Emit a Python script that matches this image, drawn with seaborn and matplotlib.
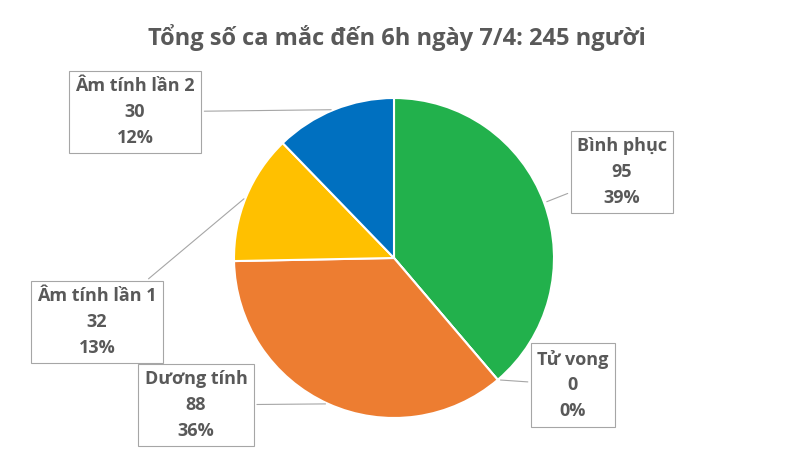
import numpy as np
import matplotlib
matplotlib.use("Agg")
import matplotlib.pyplot as plt
import seaborn as sns

sns.set_theme(style="white")
plt.rcParams['font.family'] = ['Open Sans', 'DejaVu Sans']

labels = ["Bình phục", "Tử vong", "Dương tính", "Âm tính lần 1", "Âm tính lần 2"]
values = [95, 0, 88, 32, 30]
colors = ["#22b14c", "#c00000", "#ed7d31", "#ffc000", "#0070c0"]
# label box centres in figure pixels (from top-left)
label_pos = [(622, 172), (573, 385), (196, 405), (97, 322), (135, 112)]

W, H = 793, 462
fig = plt.figure(figsize=(W/100, H/100), dpi=100)
cx, cy, r = 394, 258, 160
ax = fig.add_axes([(cx-r)/W, (H-cy-r)/H, 2*r/W, 2*r/H])
ax.pie(values, colors=colors, startangle=90, counterclock=False,
       wedgeprops=dict(edgecolor="white", linewidth=1.5), radius=1)
ax.set_xlim(-1, 1); ax.set_ylim(-1, 1)
ax.axis("off")

total = sum(values)
pct = [round(v/total*100) for v in values]
start = 90.0
gray = "#595959"
for lab, v, p, (px, py) in zip(labels, values, pct, label_pos):
    span = v/total*360
    mid = np.deg2rad(start - span/2)
    start -= span
    tx, ty = np.cos(mid), np.sin(mid)
    ax.annotate(f"{lab}\n{v}\n{p}%", xy=(tx, ty), xycoords="data",
                xytext=(px, H-py), textcoords="figure pixels",
                ha="center", va="center", fontsize=13, fontweight="bold",
                color=gray, linespacing=1.55, annotation_clip=False,
                bbox=dict(boxstyle="square,pad=0.35", fc="white", ec="#a6a6a6", lw=0.8),
                arrowprops=dict(arrowstyle="-", color="#a6a6a6", lw=0.8))

fig.text(0.5, 1-38/H, "Tổng số ca mắc đến 6h ngày 7/4: 245 người",
         ha="center", va="center", fontsize=17, fontweight="bold", color=gray)
fig.savefig("out.png", dpi=100, facecolor="white")
